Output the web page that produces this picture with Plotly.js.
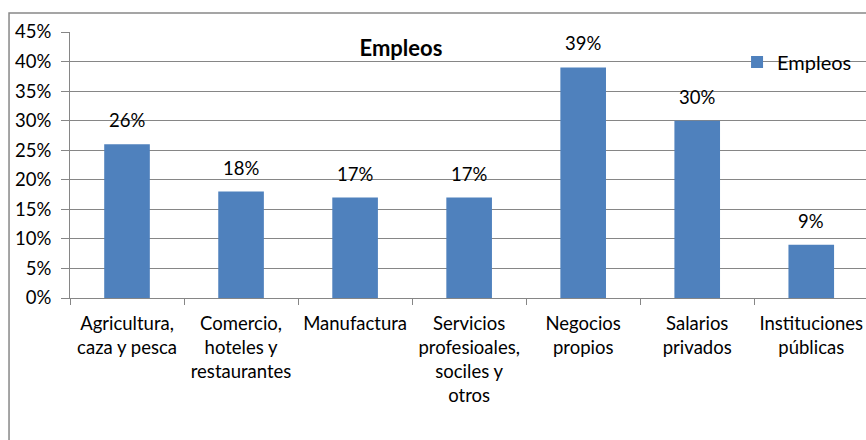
<!DOCTYPE html>
<html>
<head>
<meta charset="utf-8">
<script src="https://cdn.plot.ly/plotly-3.0.1.min.js"></script>
<style>
html,body{margin:0;padding:0;background:#fff;}
#chart{width:866px;height:440px;}
</style>
</head>
<body>
<div id="chart"></div>
<script>
const categories = [
  "Agricultura,<br>caza y pesca",
  "Comercio,<br>hoteles y<br>restaurantes",
  "Manufactura",
  "Servicios<br>profesioales,<br>sociles y<br>otros",
  "Negocios<br>propios",
  "Salarios<br>privados",
  "Instituciones<br>públicas"
];
const values = [0.26, 0.18, 0.17, 0.17, 0.39, 0.30, 0.09];
const labels = ["26%", "18%", "17%", "17%", "39%", "30%", "9%"];
const seriesName = "Empleos";
const titleText = "Empleos";

const FONT = "Lato, 'Open Sans', sans-serif";
const GRID = "#868686";
const FS = 18.5;

const trace = {
  type: "bar",
  x: categories,
  y: values,
  name: seriesName,
  marker: {color: "#4F81BD", line: {width: 0}},
  width: 0.4,
  showlegend: true,
  hoverinfo: "none"
};

const annotations = categories.map((c, i) => ({
  x: c, y: values[i], xref: "x", yref: "y",
  text: labels[i], showarrow: false,
  yanchor: "bottom", yshift: 11,
  font: {family: FONT, size: FS, color: "#000"}
}));

const layout = {
  width: 866, height: 440,
  margin: {l: 70, r: 0, t: 32, b: 142},
  paper_bgcolor: "#fff", plot_bgcolor: "#fff",
  font: {family: FONT, size: FS, color: "#000"},
  title: {
    text: "<b>" + titleText + "</b>",
    x: 0.463, xref: "container", xanchor: "center",
    y: 0.891, yref: "container", yanchor: "middle",
    font: {family: FONT, size: 22, color: "#000"}
  },
  xaxis: {
    type: "category",
    range: [-0.5, 6.48],
    showgrid: false,
    showline: true, linecolor: GRID, linewidth: 1,
    ticks: "outside", tickson: "boundaries", ticklen: 6, tickcolor: GRID,
    tickfont: {family: FONT, size: FS, color: "#000"},
    ticklabelstandoff: 9,
    fixedrange: true
  },
  yaxis: {
    range: [0, 0.45],
    dtick: 0.05, tick0: 0,
    tickformat: ".0%",
    showgrid: true, gridcolor: GRID, gridwidth: 1,
    showline: true, linecolor: GRID, linewidth: 1,
    ticks: "outside", ticklen: 8, tickcolor: GRID,
    tickfont: {family: FONT, size: FS, color: "#000"},
    ticklabelstandoff: 6,
    zeroline: false,
    fixedrange: true
  },
  showlegend: true,
  legend: {
    x: 0.838, xanchor: "left", y: 0.887, yanchor: "middle",
    bgcolor: "rgba(0,0,0,0)", borderwidth: 0,
    font: {family: FONT, size: 20, color: "#000"},
    itemwidth: 30
  },
  bargap: 0.6,
  annotations: annotations,
  shapes: [{
    type: "rect", xref: "paper", yref: "paper",
    x0: -0.0766, x1: 1.02, y0: -0.6, y1: 1.0714,
    line: {color: "#888", width: 1.5}, fillcolor: "rgba(0,0,0,0)",
    layer: "below"
  }]
};

Plotly.newPlot("chart", [trace], layout, {displayModeBar: false, staticPlot: true});
</script>
</body>
</html>
